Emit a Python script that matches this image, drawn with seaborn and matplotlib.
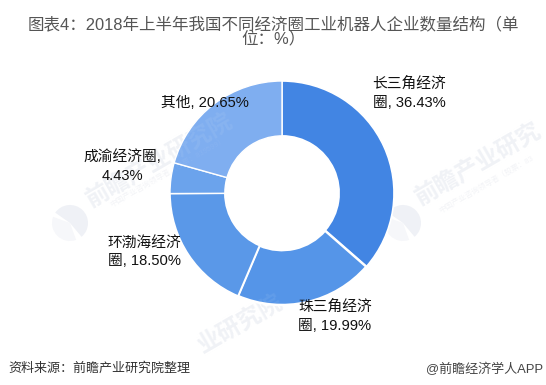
import matplotlib
matplotlib.use('Agg')
import matplotlib.pyplot as plt
from matplotlib.patches import Wedge
import seaborn as sns

# data
labels = ['长三角经济\n圈, 36.43%', '珠三角经济\n圈, 19.99%', '环渤海经济\n圈, 18.50%', '成渝经济圈,\n4.43%', '其他, 20.65%']
values = [36.43, 19.99, 18.50, 4.43, 20.65]
colors = ['#4285E3', '#5595E8', '#5A98E8', '#6BA3EC', '#7FAEF0']
label_xy = [(409, 93), (335, 316), (144, 252), (122, 166), (205, 103)]
edge_widths = [1.2, 1.8, 1.2, 1.0, 1.0]
# \uff1a \uff08 \uff09 are the full width colon and brackets
title = '图表4\uff1a2018年上半年我国不同经济圈工业机器人企业数量结构\uff08单\n位\uff1a%\uff09'
source = '资料来源\uff1a前瞻产业研究院整理'
brand = '@前瞻经济学人APP'

W, H = 546, 385
sns.set_theme(style='white')
plt.rcParams['font.family'] = ['Liberation Sans', 'Noto Sans CJK SC']

fig = plt.figure(figsize=(W / 100, H / 100), dpi=100, facecolor='white')

# background layer in picture pixels, for watermark
bg = fig.add_axes([0, 0, 1, 1], zorder=0)
bg.set_xlim(0, W)
bg.set_ylim(H, 0)
bg.axis('off')

# pie axes, center (282,193) radius 112
ax = fig.add_axes([170 / W, 1 - 305 / H, 224 / W, 224 / H], zorder=1)
ax.patch.set_alpha(0)
wedges, _ = ax.pie(values, colors=colors, startangle=90, counterclock=False, radius=1,
                   wedgeprops=dict(width=0.49, edgecolor='white'))
for w, lw in zip(wedges, edge_widths):
    w.set_linewidth(lw)
ax.set_xlim(-1, 1)
ax.set_ylim(-1, 1)
ax.axis('off')

# top layer in picture pixels, for the texts
top = fig.add_axes([0, 0, 1, 1], zorder=2)
top.set_xlim(0, W)
top.set_ylim(H, 0)
top.axis('off')
top.patch.set_alpha(0)

# watermarks, grey under the pie and white over it
marks = [('前瞻产业研究院', 160, 161, '中国产业咨询领导者\uff08股票\uff1a839599\uff09', 168, 172),
         ('前瞻产业研究', 479, 165, '中国产业咨询领导者\uff08股票\uff1a83', 486, 185),
         ('业研究院', 240, 324, '', 0, 0)]
for txt, x, y, sub, sx, sy in marks:
    bg.text(x, y, txt, fontsize=17, color='#F0F2F6', rotation=30, ha='center', va='center', fontweight='bold')
    top.text(x, y, txt, fontsize=17, color='white', alpha=0.07, rotation=30, ha='center', va='center', fontweight='bold')
    if sub:
        bg.text(sx, sy, sub, fontsize=5.5, color='#F3F4F7', rotation=30, ha='center', va='center')
        top.text(sx, sy, sub, fontsize=5.5, color='white', alpha=0.06, rotation=30, ha='center', va='center')
for lx in [70, 403]:
    bg.add_patch(Wedge((lx, 223), 18, 70, 200, fc='#F6F7FA', ec='none'))
    bg.add_patch(Wedge((lx, 223), 18, 215, 50, fc='#EFF1F6', ec='none'))

# labels
for (x, y), txt in zip(label_xy, labels):
    top.text(x, y, txt, fontsize=10.6, color='#111111', ha='center', va='center', linespacing=1.45, multialignment='center')

top.text(273.5, 31.5, title, fontsize=11.9, color='#555555', ha='center', va='center', linespacing=0.88, multialignment='center')
top.text(8, 369, source, fontsize=9.4, color='#333333', style='italic', ha='left', va='center')
top.text(543, 369, brand, fontsize=9.4, color='#444444', ha='right', va='center')

fig.savefig('out.png', dpi=100)
